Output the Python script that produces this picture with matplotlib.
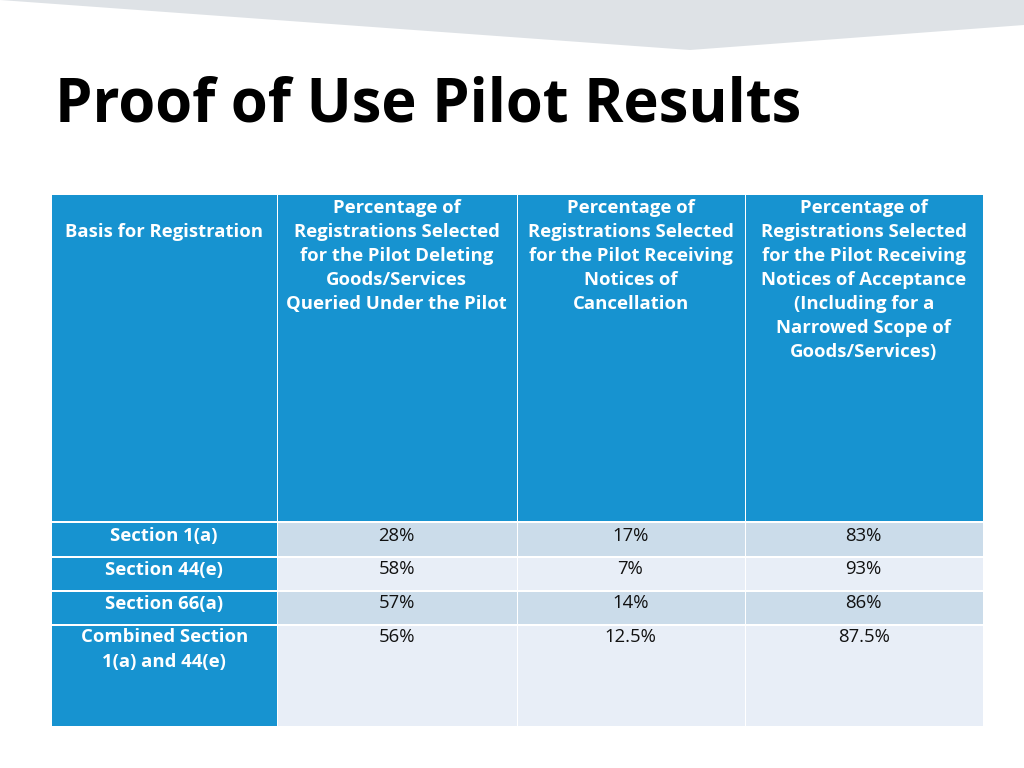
import matplotlib
matplotlib.use("Agg")
import matplotlib.pyplot as plt
from matplotlib.patches import Rectangle, Polygon

title = "Proof of Use Pilot Results"
headers = [
    "Basis for Registration",
    "Percentage of\nRegistrations Selected\nfor the Pilot Deleting\nGoods/Services\nQueried Under the Pilot",
    "Percentage of\nRegistrations Selected\nfor the Pilot Receiving\nNotices of\nCancellation",
    "Percentage of\nRegistrations Selected\nfor the Pilot Receiving\nNotices of Acceptance\n(Including for a\nNarrowed Scope of\nGoods/Services)",
]
row_labels = ["Section 1(a)", "Section 44(e)", "Section 66(a)", "Combined Section\n1(a) and 44(e)"]
pct_deleting = ["28%", "58%", "57%", "56%"]
pct_cancellation = ["17%", "7%", "14%", "12.5%"]
pct_acceptance = ["83%", "93%", "86%", "87.5%"]

BLUE = "#1793D0"
ROW_DARK = "#CBDCEA"
ROW_LIGHT = "#E8EEF7"
BANNER = "#DEE2E6"
FONT = ["Open Sans", "DejaVu Sans"]
FS = 13.3
LINE = 24
BASE_OFF = 6

fig = plt.figure(figsize=(10.24, 7.68), dpi=100)
ax = fig.add_axes([0, 0, 1, 1])
ax.set_xlim(0, 1024)
ax.set_ylim(768, 0)
ax.axis("off")


def lines_at(x, ycenter, text, **kw):
    for i, ln in enumerate(text.split("\n")):
        ax.text(x, ycenter + i * LINE + BASE_OFF, ln, ha="center", va="baseline",
                fontsize=FS, family=FONT, **kw)


# top banner
ax.add_patch(Polygon([(0, 0), (1024, 0), (1024, 25), (690, 50), (0, 0)],
                     closed=True, facecolor=BANNER, edgecolor="none"))

ax.text(55, 121.5, title, fontsize=43, fontweight="bold", family=FONT,
        color="black", ha="left", va="baseline")

col_edges = [52, 276.5, 516.5, 744.5, 983]
header_top, header_bot = 195, 520.5
row_edges = [522.5, 556, 590, 624, 726]
gap = 1.5

# header
for i in range(4):
    x0, x1 = col_edges[i], col_edges[i + 1]
    ax.add_patch(Rectangle((x0 + (gap if i else 0), header_top), x1 - x0 - (gap if i else 0),
                           header_bot - header_top, facecolor=BLUE, edgecolor="none"))
    ytop = 231 if i == 0 else 207
    lines_at((x0 + x1) / 2, ytop, headers[i], fontweight="bold", color="white")

values = [pct_deleting, pct_cancellation, pct_acceptance]
for r in range(4):
    y0, y1 = row_edges[r] + gap, row_edges[r + 1]
    if r == 0:
        y0 = row_edges[0] + 0.5
    ax.add_patch(Rectangle((col_edges[0], y0), col_edges[1] - col_edges[0], y1 - y0,
                           facecolor=BLUE, edgecolor="none"))
    ycen = row_edges[r] + 12.5
    lines_at((col_edges[0] + col_edges[1]) / 2, ycen, row_labels[r],
             fontweight="bold", color="white")
    fc = ROW_DARK if r % 2 == 0 else ROW_LIGHT
    for c in range(3):
        x0, x1 = col_edges[c + 1] + gap, col_edges[c + 2]
        ax.add_patch(Rectangle((x0, y0), x1 - x0, y1 - y0, facecolor=fc, edgecolor="none"))
        lines_at((col_edges[c + 1] + col_edges[c + 2]) / 2, ycen, values[c][r],
                 color="#111111")

fig.savefig("out.png", dpi=100, facecolor="white")
